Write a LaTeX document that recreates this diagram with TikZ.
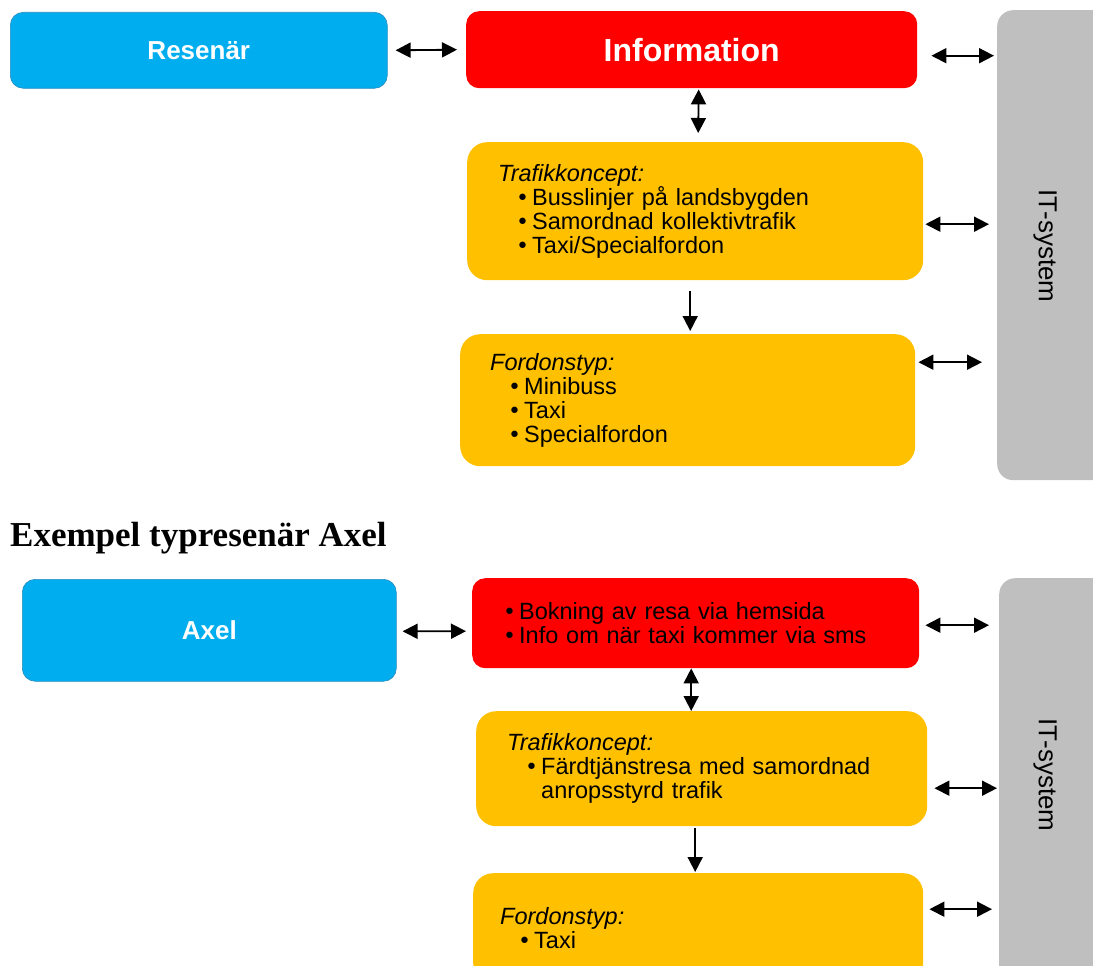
\documentclass[tikz,border=0pt]{standalone}
\usepackage{fontspec}
\setmainfont{Liberation Sans}
\newfontfamily\headfont{Liberation Serif}
\newfontfamily\bulfont{DejaVu Sans}
\usetikzlibrary{arrows.meta,calc}
\definecolor{cblue}{RGB}{0,174,239}
\definecolor{cbluedark}{RGB}{40,140,190}
\definecolor{cred}{RGB}{255,0,0}
\definecolor{cyellow}{RGB}{255,192,0}
\definecolor{cgrey}{RGB}{191,191,191}
\newcommand\bigbul{{\bulfont\fontsize{22}{24}\selectfont\char"2022}\hspace{3pt}}
\newcommand\blt[1]{\hspace*{18pt}\bigbul#1}
\tikzset{
  box/.style={rectangle, rounded corners=13pt, anchor=north west, inner sep=0pt},
  bluebox/.style={box, fill=cblue, draw=cbluedark, line width=0.6pt, text=white,
    font=\fontsize{26}{26}\selectfont\bfseries},
  redbox/.style={box, fill=cred},
  yellowbox/.style={box, fill=cyellow, rounded corners=20pt},
  listtext/.style={align=left, font=\fontsize{23.5}{24}\selectfont},
  itbox/.style={box, fill=cgrey, rounded corners=16pt},
  ittext/.style={rotate=-90, font=\fontsize{26}{26}\selectfont, inner sep=0pt},
  arr/.style={{Triangle[length=15pt,width=15pt]}-{Triangle[length=15pt,width=15pt]}, line width=1.8pt},
  arrone/.style={-{Triangle[length=15pt,width=15pt]}, line width=1.8pt},
}
\begin{document}
\begin{tikzpicture}[x=1pt,y=-1pt]
\useasboundingbox (0,0) rectangle (1093,966);
% ---------- top part ----------
\node[bluebox, minimum width=377pt, minimum height=76pt] (res) at (10,12) {Resenär};
\node[redbox, minimum width=451pt, minimum height=77pt, text=white,
  font=\fontsize{32}{32}\selectfont\bfseries] (info) at (466,11) {Information};
\node[itbox, minimum width=130pt, minimum height=470pt] (it1) at (997,10) {};
\node[ittext] (it1t) at (1045,246) {IT-system};
\node[yellowbox, listtext, inner xsep=31pt, text width=394pt, minimum height=138pt] (traf1) at (467,142)
  {{\itshape Trafikkoncept:}\\
   \blt{Busslinjer på landsbygden}\\
   \blt{Samordnad kollektivtrafik}\\
   \blt{Taxi/Specialfordon}};
\node[yellowbox, listtext, inner xsep=30pt, text width=395pt, minimum height=132pt] (ford1) at (460,334)
  {{\itshape Fordonstyp:}\\
   \blt{Minibuss}\\
   \blt{Taxi}\\
   \blt{Specialfordon}};
\draw[arr] ($(res.east)+(8,0)$) -- ($(info.west)+(-9,0)$);
\draw[arr] ($(info.east)+(14,6)$) -- ($(it1.west |- info.east)+(-3,6)$);
\draw[arr] ($(info.south)+(7,1)$) -- ($(traf1.north)+(3,-9)$);
\draw[arr] ($(traf1.east)+(2,13)$) -- ($(it1.west |- traf1.east)+(-8,13)$);
\draw[arrone] ($(traf1.south)+(-5,11)$) -- ($(ford1.north)+(2.5,-3)$);
\draw[arr] ($(ford1.east)+(3,-38)$) -- ($(it1.west |- ford1.east)+(-15,-38)$);
% ---------- heading ----------
\node[anchor=base west, inner sep=0pt, font=\headfont\bfseries\fontsize{35}{35}\selectfont] (head) at (10,546) {Exempel typresenär Axel};
% ---------- bottom part ----------
\node[bluebox, minimum width=374pt, minimum height=102pt] (axel) at (22,579) {Axel};
\node[redbox, listtext, inner xsep=31pt, text width=385pt, minimum height=90pt] (red2) at (472,578)
  {\bigbul Bokning av resa via hemsida\\
   \bigbul Info om när taxi kommer via sms};
\node[itbox, minimum width=130pt, minimum height=410pt] (it2) at (999,578) {};
\node[ittext] (it2t) at (1045,775) {IT-system};
\node[yellowbox, listtext, inner xsep=31pt, text width=389pt, minimum height=115pt] (traf2) at (476,711)
  {{\itshape Trafikkoncept:}\\
   \blt{Färdtjänstresa med samordnad}\\
   \hspace*{34pt}anropsstyrd trafik};
\node[yellowbox, listtext, inner xsep=27pt, text width=396pt, minimum height=110pt] (ford2) at (473,873)
  {{\itshape Fordonstyp:}\\
   \blt{Taxi}};
\draw[arr] ($(axel.east)+(6,1)$) -- ($(red2.west)+(-6,8)$);
\draw[arr] ($(red2.east)+(6,2)$) -- ($(it2.west |- red2.east)+(-10,2)$);
\draw[arr] ($(red2.south)+(-4.5,0)$) -- ($(traf2.north)+(-10.5,0)$);
\draw[arr] ($(traf2.east)+(7,19.5)$) -- ($(it2.west |- traf2.east)+(-2,19.5)$);
\draw[arrone] ($(traf2.south)+(-6.5,2)$) -- ($(ford2.north)+(-3,-1)$);
\draw[arr] ($(ford2.east)+(6,-19)$) -- ($(it2.west |- ford2.east)+(-7,-19)$);
\end{tikzpicture}
\end{document}
